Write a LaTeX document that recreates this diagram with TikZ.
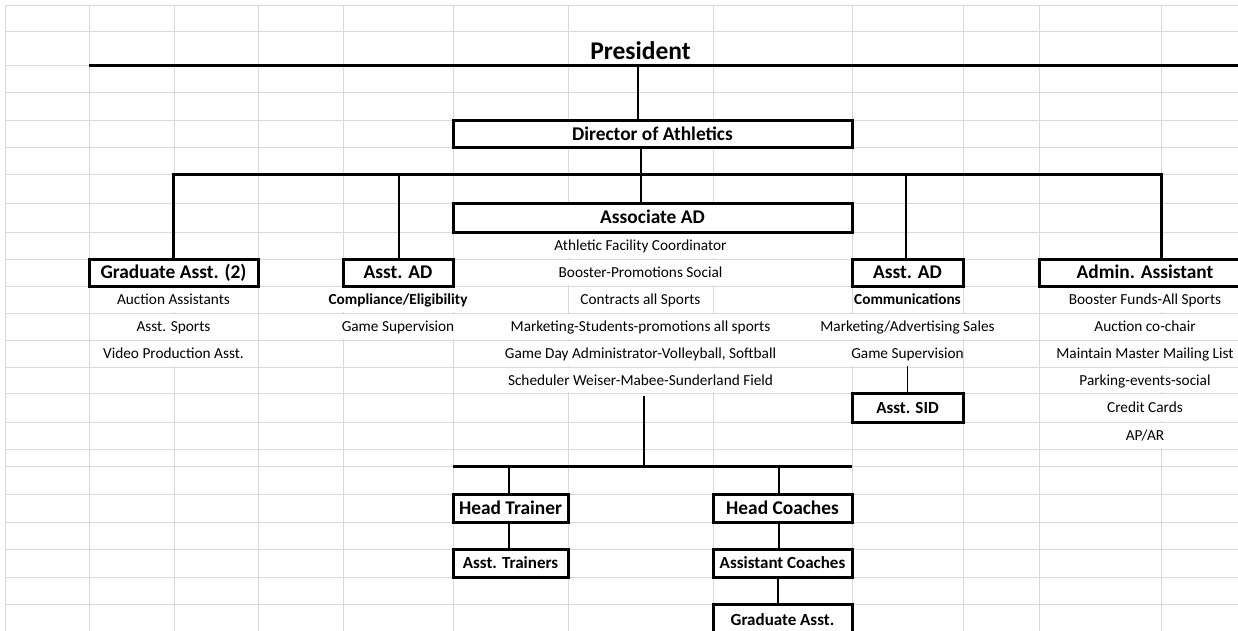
\documentclass[tikz,border=0pt]{standalone}
\usepackage{fontspec}
\setmainfont{Carlito}
\usepackage{xcolor}
\definecolor{gridgray}{RGB}{217,217,217}
\tikzstyle{cellgrid} = [draw=gridgray, line width=1pt]
\tikzstyle{orgbox} = [draw=black, fill=white, line width=3pt, rectangle,
    inner sep=0pt, text height=16.5pt, text depth=4pt,
    font=\fontsize{19.4}{22}\selectfont\bfseries]
\tikzstyle{smallbox} = [orgbox, text height=15pt, text depth=4pt,
    font=\fontsize{17}{20}\selectfont\bfseries]
\tikzstyle{duty} = [inner sep=0pt, text height=13.4pt, text depth=3.5pt,
    font=\fontsize{15.3}{18}\selectfont]
\tikzstyle{dutyhead} = [duty, font=\fontsize{15.3}{18}\selectfont\bfseries]
\tikzstyle{bar} = [draw=black, line width=3pt]
\tikzstyle{link} = [draw=black, line width=1.1pt]
% white out the grid inside a run of cells
\newcommand{\blankcell}[4]{\fill[white] (#1+1,#3+1) rectangle (#2-1,#4-1);}

\begin{document}
\begin{tikzpicture}[x=1pt, y=-1pt]
\useasboundingbox (0,0) rectangle (1238,631);
\clip (0,0) rectangle (1238,631);

% sheet grid
\foreach \y in {5.7,31.7,66,93,121,148,175,203,232,259,286,313,340,367,393,422,449,466.5,494,522,549,577,604}
    \draw[cellgrid] (5,\y) -- (1238,\y);
\foreach \x in {5,89,174,258,343,453,568,713,852,963,1039,1161}
    \draw[cellgrid] (\x,5.7) -- (\x,631);

% text running over cells
\blankcell{453}{852}{232}{259}
\blankcell{453}{852}{259}{286}
\blankcell{89}{258}{286}{313}
\blankcell{258}{568}{286}{313}
\blankcell{89}{258}{313}{340}
\blankcell{258}{1039}{313}{340}
\blankcell{89}{258}{340}{367}
\blankcell{453}{963}{340}{367}
\blankcell{453}{852}{367}{393}
\foreach \y/\z in {286/313,313/340,340/367,367/393,393/422,422/449}
    {\blankcell{1039}{1251}{\y}{\z}}

% top
\node[font=\fontsize{25.5}{28}\selectfont\bfseries, inner sep=0pt, text height=21.4pt, text depth=5pt] (pres) at (640.5,51) {President};
\coordinate (presfoot) at (638,66);
\draw[bar] (89,66) -- (1238,66);
\node[orgbox, minimum width=399pt, minimum height=27pt] (dir) at (652.5,134.5) {Director of Athletics};
\node[orgbox, minimum width=399pt, minimum height=29pt] (assoc) at (652.5,217.5) {Associate AD};

% second level
\node[orgbox, minimum width=169pt, minimum height=27pt] (gradasst) at (173.5,272.5) {Graduate Asst. (2)};
\node[orgbox, minimum width=110pt, minimum height=27pt] (compad) at (398,272.5) {Asst. AD};
\node[orgbox, minimum width=111pt, minimum height=27pt] (commad) at (907.5,272.5) {Asst. AD};
\node[orgbox, minimum width=212pt, minimum height=27pt] (admin) at (1145,272.5) {Admin. Assistant};
\coordinate (split) at (1161,175);
\draw[bar] (gradasst.north) |- (split) -- (split |- admin.north);

% duties
\node[duty] (ga1) at (173.5,300) {Auction Assistants};
\node[duty] (ga2) at (173.5,327) {Asst. Sports};
\node[duty] (ga3) at (173.5,354) {Video Production Asst.};
\node[dutyhead] (ca1) at (398,300) {Compliance/Eligibility};
\node[duty] (ca2) at (398,327) {Game Supervision};
\node[duty] (as1) at (640.5,246) {Athletic Facility Coordinator};
\node[duty] (as2) at (640.5,273) {Booster-Promotions Social};
\node[duty] (as3) at (640.5,300) {Contracts all Sports};
\node[duty] (as4) at (640.5,327) {Marketing-Students-promotions all sports};
\node[duty] (as5) at (640.5,354) {Game Day Administrator-Volleyball, Softball};
\node[duty] (as6) at (640.5,380.5) {Scheduler Weiser-Mabee-Sunderland Field};
\node[dutyhead] (co1) at (907.5,300) {Communications};
\node[duty] (co2) at (907.5,327) {Marketing/Advertising Sales};
\node[duty] (co3) at (907.5,354) {Game Supervision};
\node[duty] (ad1) at (1145,300) {Booster Funds-All Sports};
\node[duty] (ad2) at (1145,327) {Auction co-chair};
\node[duty] (ad3) at (1145,354) {Maintain Master Mailing List};
\node[duty] (ad4) at (1145,380.5) {Parking-events-social};
\node[duty] (ad5) at (1145,408) {Credit Cards};
\node[duty] (ad6) at (1145,436) {AP/AR};
\node[smallbox, minimum width=111pt, minimum height=29pt] (sid) at (907.5,407.5) {Asst. SID};

% teams
\coordinate (teamhub) at (644,466.5);
\draw[bar] (453,466.5) -- (852,466.5);
\node[orgbox, minimum width=115pt, minimum height=28pt] (headtr) at (510.5,508) {Head Trainer};
\node[smallbox, minimum width=115pt, minimum height=28pt] (asttr) at (510.5,563) {Asst. Trainers};
\node[orgbox, minimum width=139pt, minimum height=28pt] (headco) at (782.5,508) {Head Coaches};
\node[smallbox, minimum width=139pt, minimum height=28pt] (astco) at (782.5,563) {Assistant Coaches};
\node[smallbox, minimum width=139pt, minimum height=32pt] (gradco) at (782.5,620) {Graduate Asst.};

% connectors
\draw[link] (presfoot) -- (presfoot |- dir.north);
\draw[link] ([xshift=-11.5pt]dir.south) -- ([xshift=-11.5pt]assoc.north);
\draw[link] ([xshift=1pt]compad.north) -- ([xshift=1pt]compad.north |- split);
\draw[link] ([xshift=-1.5pt]commad.north) -- ([xshift=-1.5pt]commad.north |- split);
\draw[link] (sid.north) -- +(0,-26);
\draw[link] (teamhub) -- ++(0,-71);
\draw[link] ([xshift=-1.5pt]headtr.north) -- ([xshift=-1.5pt]headtr.north |- teamhub);
\draw[link] ([xshift=-1.5pt]headtr.south) -- ([xshift=-1.5pt]asttr.north);
\draw[link] ([xshift=-3.5pt]headco.north) -- ([xshift=-3.5pt]headco.north |- teamhub);
\draw[link] ([xshift=-3.5pt]headco.south) -- ([xshift=-3.5pt]astco.north);
\draw[link] ([xshift=-4.5pt]astco.south) -- ([xshift=-4.5pt]gradco.north);
\end{tikzpicture}
\end{document}
